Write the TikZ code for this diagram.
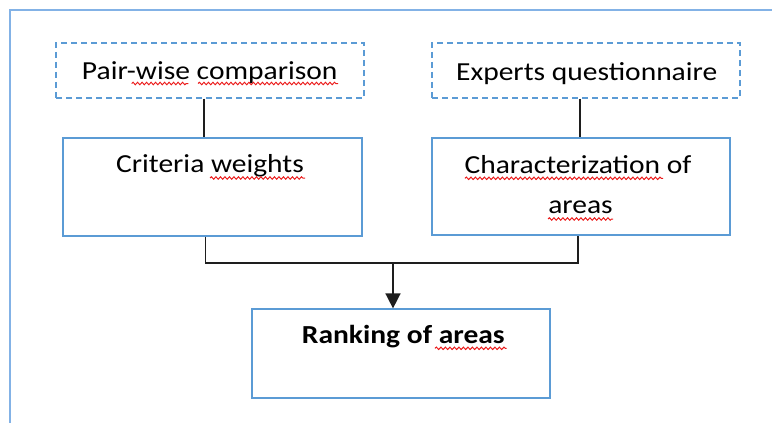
\documentclass[tikz,border=0pt]{standalone}
\usepackage{fontspec}
\setmainfont{Carlito}[FakeStretch=1.135]
\usetikzlibrary{arrows.meta,decorations.pathmorphing}

\definecolor{frameblue}{RGB}{131,178,230}
\definecolor{boxblue}{RGB}{91,155,213}
\definecolor{linegray}{RGB}{30,30,30}
\definecolor{squigred}{RGB}{235,25,25}

\tikzset{
  box/.style={draw=boxblue, line width=1.2pt, inner sep=0pt},
  dashbox/.style={box, dash pattern=on 6pt off 4pt},
  label/.style={font=\fontsize{26}{40}\selectfont, inner sep=0pt, anchor=base, text=black},
  link/.style={draw=linegray, line width=1.5pt},
  squiggle/.style={draw=squigred, line width=1pt, decorate,
    decoration={snake, amplitude=1.2pt, segment length=4.5pt}}
}

\begin{document}
\begin{tikzpicture}[x=1pt, y=-1pt]
  \useasboundingbox (0,0) rectangle (772,423);

  % open frame along the top and left
  \draw[frameblue, line width=2.5pt] (10,423) -- (10,10) -- (772,10);

  % input sources
  \node[dashbox, minimum width=308pt, minimum height=55pt] (pw) at (210,70.5) {};
  \node[label] (pwt) at (209.7,79.3) {Pair-wise comparison};
  \node[dashbox, minimum width=308pt, minimum height=55pt] (eq) at (586,70.5) {};
  \node[label] (eqt) at (586.7,80) {Experts questionnaire};

  % intermediate results
  \node[box, minimum width=299pt, minimum height=98pt] (cw) at (212.5,187) {};
  \node[label] (cwt) at (210,172.5) {Criteria weights};
  \node[box, minimum width=298pt, minimum height=97pt] (ch) at (581,186.5) {};
  \node[label] (cht1) at (578,173.3) {Characterization of};
  \node[label] (cht2) at (580.5,213.3) {areas};

  % final result
  \node[box, minimum width=298pt, minimum height=89pt] (rk) at (401,353.5) {};
  \node[label] (rkt) at (403.3,343) {\bfseries Ranking of areas};

  % connectors
  \coordinate (join) at (393,263);
  \draw[link] ([xshift=-6pt]pw.south) -- ([xshift=-6pt]pw.south |- cw.north);
  \draw[link] ([xshift=-1pt]eq.south -| ch.north) -- ([xshift=-1pt]ch.north);
  \draw[link] ([xshift=-7pt]cw.south) |- (join) -| ([xshift=-3pt]ch.south);
  \draw[link, -{Triangle[width=15pt,length=15pt]}] (join) -- (join |- rk.north);

  % spell-check underlines
  \draw[squiggle] (131.7,83.5) -- (188.3,83.5);
  \draw[squiggle] (198,83.5) -- (338,83.5);
  \draw[squiggle] (210,178) -- (305,178);
  \draw[squiggle] (465,178.3) -- (663,178.3);
  \draw[squiggle] (548,219) -- (613,219);
  \draw[squiggle] (435,348.3) -- (506.7,348.3);
\end{tikzpicture}
\end{document}
